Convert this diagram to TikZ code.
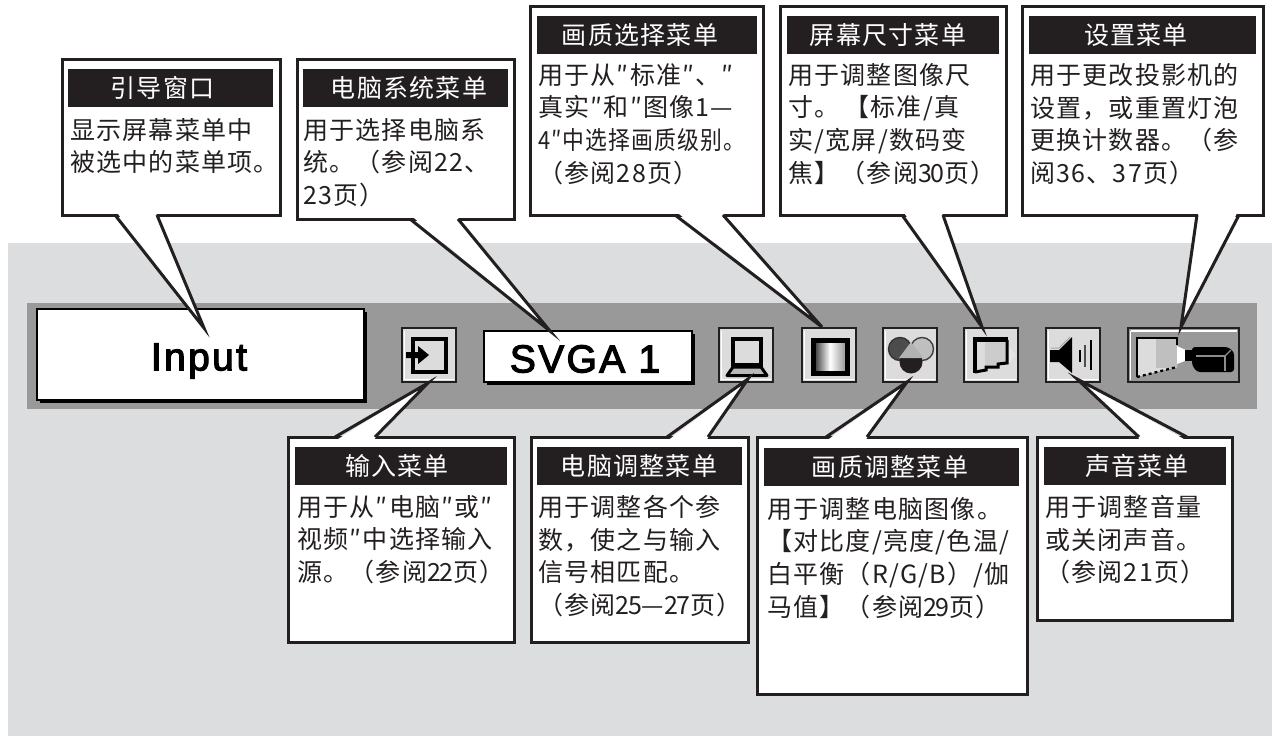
\documentclass[tikz,border=0pt]{standalone}
\usepackage{fontspec}
\usepackage{graphicx}
\usetikzlibrary{calc}
\newfontfamily\cjkbody[LetterSpace=5]{Noto Sans CJK SC}
\newfontfamily\digitfont[LetterSpace=-6]{Noto Sans CJK SC}
\newfontfamily\menufont[LetterSpace=6,FakeBold=3]{Liberation Sans}
\newcommand{\dg}[1]{{\digitfont #1}}
\definecolor{ink}{HTML}{231F20}
\definecolor{panelgray}{HTML}{DCDDDE}
\definecolor{bandgray}{HTML}{999999}
\definecolor{btngray}{HTML}{DCDCDC}
\tikzset{
  x=1pt,y=-1pt,
  rectbox/.style={draw=ink,fill=white,line width=3pt,inner sep=0pt,outer sep=0pt,anchor=north west},
  headbar/.style={fill=ink,inner sep=0pt,outer sep=0pt,anchor=north west,minimum height=38pt},
  titletext/.style={text=white,inner sep=0pt,font=\cjkbody\fontsize{25}{25}\selectfont},
  bodytext/.style={text=ink,inner sep=0pt,anchor=north west,align=left,font=\cjkbody\fontsize{25}{32.7}\selectfont},
  btn/.style={draw=ink,fill=btngray,line width=2.2pt,inner sep=0pt,outer sep=0pt,anchor=north west},
  screenbox/.style={draw=black,fill=white,line width=2.2pt,inner sep=0pt,outer sep=0pt,anchor=north west},
  tailline/.style={draw=ink,line width=3pt,line join=miter},
  menutext/.style={inner sep=0pt,text=black,font=\menufont\fontsize{39}{39}\selectfont},
}
% name, x1,y1,x2,y2, head x1, head x2, head y
\newcommand{\callbox}[8]{%
  \node[rectbox,minimum width={(#4-#2)*1pt},minimum height={(#5-#3)*1pt}] (#1) at (#2,#3) {};
  \node[headbar,minimum width={(#7-#6)*1pt}] (#1head) at (#6,#8) {};}
% tail: x1, x2, y on border, y just inside, tip
\newcommand{\calltail}[5]{%
  \fill[white] ($(#1,#4)+(1.5,0)$) -- ($(#2,#4)+(-1.5,0)$) -- (#5) -- cycle;
  \draw[tailline] (#1,#3) -- (#5) -- (#2,#3);}
\begin{document}
\begin{tikzpicture}
\useasboundingbox (0,0) rectangle (1272,736);
\fill[panelgray] (8,243) rectangle (1272,736);
\fill[bandgray] (27,303) rectangle (1257,409);

% menu bar
\fill[black] (40,312) rectangle (367,403);
\node[screenbox,minimum width=327pt,minimum height=91pt] (inputbox) at (37,309) {};
\node[menutext] (inputlabel) at (199,361) {Input};
\fill[black] (487,334) rectangle (695,385);
\node[screenbox,minimum width=208pt,minimum height=51pt] (svgabox) at (484,331) {};
\node[menutext] (svgalabel) at (585,359) {SVGA 1};

\node[btn,minimum width=54pt,minimum height=54pt] (btninput) at (402,328) {};
\node[btn,minimum width=54pt,minimum height=54pt] (btncomp) at (719,328) {};
\node[btn,minimum width=54pt,minimum height=54pt] (btnimage) at (802,328) {};
\node[btn,minimum width=54pt,minimum height=54pt] (btncolor) at (883,328) {};
\node[btn,minimum width=54pt,minimum height=54pt] (btnscreen) at (964,328) {};
\node[btn,minimum width=54pt,minimum height=54pt] (btnsound) at (1046,328) {};
\node[btn,fill=bandgray,minimum width=111pt,minimum height=54pt] (btnset) at (1128,328) {};
\foreach \bx in {402,719,802,883,964,1046}{
  \draw[white,line width=1.6pt] (\bx+2.5,330.5) -- (\bx+2.5,379.5) -- (\bx+51.5,379.5);
}
\draw[white,line width=1.8pt] (1130.5,331) -- (1236.5,331);
\draw[white,line width=1.8pt] (1130.5,331) -- (1130.5,380);

% input icon
\draw[black,line width=4.5pt,line join=miter] (413,339) rectangle (446,372);
\fill[black] (406,352) -- (418,352) -- (418,346) -- (429,355) -- (418,364) -- (418,358) -- (406,358) -- cycle;
% computer icon
\draw[black,line width=4.5pt,fill=btngray] (733,339) rectangle (761,365);
\filldraw[draw=black,fill=gray!55,line width=3pt,line join=round] (733,367) -- (761,367) -- (767,375.5) -- (727,375.5) -- cycle;
% image icon
\shade[left color=black!85,right color=black!45,middle color=white] (813,340) rectangle (847,373);
\draw[black,line width=5pt] (813,340) rectangle (847,373);
% colour icon
\fill[black!25] (922,349) circle (11.5);
\draw[black!75,line width=1.4pt] (922,349) circle (11.5);
\fill[black!70] (900,349) circle (11.5);
\draw[black!80,line width=1.4pt] (900,349) circle (11.5);
\fill[ink] (911,362) circle (11.5);
\fill[black!30] (911,342) -- (899,358) -- (923,358) -- cycle;
% screen icon
\fill[black!10] (1007,345) -- (1016,355) -- (1007,365) -- cycle;
\fill[black!20] (975,338) -- (1007,338) -- (1007,363) -- (998,363) -- (998,366) -- (986,366) -- (986,369) -- (975,372) -- cycle;
\fill[btngray] (975,338) rectangle (985,372);
\draw[black,line width=3pt,line join=miter] (1007,340) -- (1007,363) -- (998,364) -- (998,367) -- (986,367) -- (986,370) -- (975,372);
\draw[black,line width=4.5pt,line join=miter] (1008,339.5) -- (975,339.5) -- (975,373);
% sound icon
\fill[black] (1050,350) -- (1059,350) -- (1072,337) -- (1072,373) -- (1059,362) -- (1050,362) -- cycle;
\draw[btngray!40!gray,line width=1pt] (1051,348) -- (1059,348) -- (1070,337);
\draw[black,line width=1.8pt] (1080,350) -- (1080,362);
\draw[black!70,line width=1.8pt] (1085,345) -- (1085,367);
\draw[black,line width=1.8pt] (1091,340) -- (1091,370);
% settings icon
\fill[btngray] (1137,338) -- (1177,338) -- (1177,367) -- (1137,377) -- cycle;
\fill[black!25] (1156,338) rectangle (1177,368);
\draw[black,line width=2.4pt] (1177,345) -- (1177,338) -- (1137,338) -- (1137,377);
\draw[black,line width=2.2pt,dashed] (1137,377) -- (1177,367);
\fill[white] (1177,346) -- (1190,352) -- (1190,359) -- (1177,364) -- cycle;
\fill[black] (1185,350) rectangle (1196,361);
\fill[black,rounded corners=3pt] (1192,347) -- (1228,347) -- (1234,352) -- (1234,372) -- (1197,372) -- (1192,365) -- cycle;
\draw[black!45,line width=1.2pt] (1196,356) -- (1225,356) -- (1225,371);
\draw[black!45,line width=1.2pt] (1225,356) -- (1231,350);

% callouts
\callbox{cguide}{62}{59}{280}{215}{68}{273}{69}
\node[titletext] (tguide) at (162.5,88) {引导窗口};
\node[bodytext] (bguide) at (70,118) {显示屏幕菜单中\\被选中的菜单项。};
\callbox{csystem}{297}{59}{514}{219}{303}{508}{69}
\node[titletext] (tsystem) at (409,88) {电脑系统菜单};
\node[bodytext] (bsystem) at (303,118) {用于选择电脑系\\统。（参阅22、\\23页）};
\callbox{cimgsel}{530}{6}{763}{215}{537}{757}{16}
\node[titletext] (timgsel) at (640,35) {画质选择菜单};
\node[bodytext] (bimgsel) at (538,63) {用于从″标准″、″\\真实″和″图像1—\\\resizebox{207pt}{\height}{4″中选择画质级别。}\\（参阅28页）};
\callbox{cscreen}{780}{6}{1006}{215}{787}{999}{16}
\node[titletext] (tscreen) at (888,35) {屏幕尺寸菜单};
\node[bodytext] (bscreen) at (788,63) {用于调整图像尺\\寸。\hspace{5pt}【标准/真\\实/宽屏/数码变\\焦】（参阅\dg{30}页）};
\callbox{cset}{1022}{6}{1263}{215}{1029}{1256}{16}
\node[titletext] (tset) at (1136,35) {设置菜单};
\node[bodytext] (bset) at (1030,63) {用于更改投影机的\\设置，或重置灯泡\\更换计数器。（参\\阅36、37页）};
\callbox{cinput}{288}{437}{514}{642}{295}{507}{447}
\node[titletext] (tinput) at (397,466) {输入菜单};
\node[bodytext] (binput) at (297,495) {用于从″电脑″或″\\视频″中选择输入\\源。（参阅\dg{22}页）};
\callbox{cadjust}{531}{437}{748}{642}{537}{742}{447}
\node[titletext] (tadjust) at (639,466) {电脑调整菜单};
\node[bodytext] (badjust) at (538,495) {用于调整各个参\\数，使之与输入\\信号相匹配。\\（参阅\dg{25}—\dg{27}页）};
\callbox{cimgadj}{757}{437}{1027}{694}{764}{1019}{448}
\node[titletext] (timgadj) at (890,467) {画质调整菜单};
\node[bodytext] (bimgadj) at (767,497) {用于调整电脑图像。\\【对比度/亮度/色温/\\白平衡（R/G/B）/伽\\马值】（参阅\dg{29}页）};
\callbox{csound}{1037}{437}{1232}{620}{1044}{1226}{447}
\node[titletext] (tsound) at (1137,466) {声音菜单};
\node[bodytext] (bsound) at (1045,495) {用于调整音量\\或关闭声音。\\（参阅21页）};

% tips
\coordinate (tipguide) at (204,328);
\coordinate (tipsystem) at (550,331);
\coordinate (tipimgsel) at (822,327);
\coordinate (tipscreen) at (982,327);
\coordinate (tipset) at (1181,327);
\coordinate (tipinput) at (428,383);
\coordinate (tipadjust) at (748,379);
\coordinate (tipimgadj) at (907,382);
\coordinate (tipsound) at (1077,379);
% tails
\calltail{115}{157}{215}{212}{tipguide}
\calltail{410}{458}{219}{216}{tipsystem}
\calltail{675}{723}{215}{212}{tipimgsel}
\calltail{902}{943}{215}{212}{tipscreen}
\calltail{1197}{1239}{215}{212}{tipset}
\calltail{335}{375}{437}{440}{tipinput}
\calltail{667}{708}{437}{440}{tipadjust}
\calltail{826}{867}{437}{440}{tipimgadj}
\calltail{1139}{1187}{437}{440}{tipsound}
\end{tikzpicture}
\end{document}
